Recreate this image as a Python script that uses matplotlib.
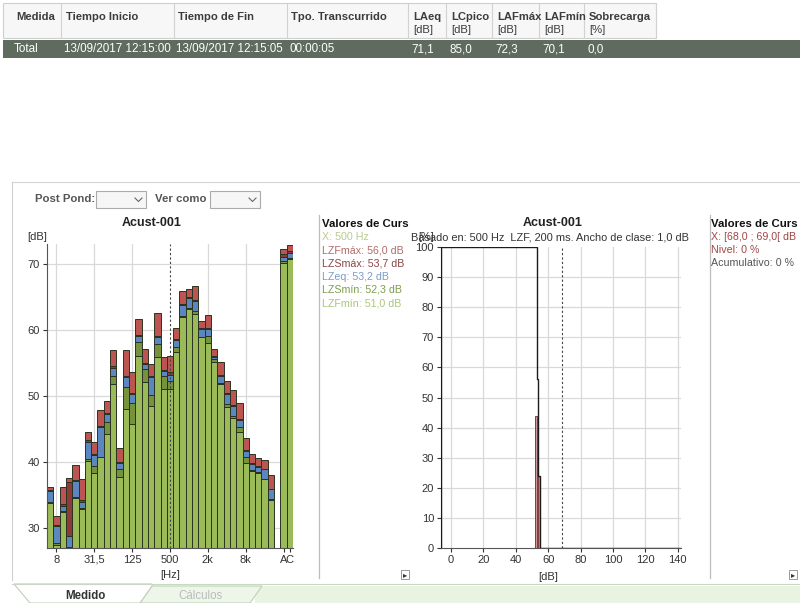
import numpy as np
import matplotlib
matplotlib.use("Agg")
import matplotlib.pyplot as plt
from matplotlib.patches import Rectangle, Polygon
from matplotlib.lines import Line2D

# ---------------- data ----------------
table_headers = ["Medida", "Tiempo Inicio", "Tiempo de Fin", "Tpo. Transcurrido",
                 "LAeq\n[dB]", "LCpico\n[dB]", "LAFmáx\n[dB]", "LAFmín\n[dB]", "Sobrecarga\n[%]"]
table_row = ["Total", "13/09/2017 12:15:00", "13/09/2017 12:15:05", "00:00:05",
             "71,1", "85,0", "72,3", "70,1", "0,0"]

bands = ['6,3', '8', '10', '12,5', '16', '20', '25', '31,5', '40', '50', '63', '80', '100',
         '125', '160', '200', '250', '315', '400', '500', '630', '800', '1k', '1,25k', '1,6k',
         '2k', '2,5k', '3,15k', '4k', '5k', '6,3k', '8k', '10k', '12,5k', '16k', '20k', '', 'A', 'C']
nan = np.nan
LZFmax = [36.2, 31.8, 36.3, 37.6, 39.6, 37.4, 44.6, 43.1, 47.9, 49.2, 57.0, 42.2, 56.9, 53.7,
          61.7, 57.1, 54.8, 62.5, 55.9, 56.0, 60.3, 65.9, 66.2, 66.6, 61.4, 62.2, 57.1, 55.1,
          52.3, 50.9, 49.0, 43.7, 41.2, 40.6, 40.3, 38.1, nan, 72.3, 72.9]
LZSmax = [35.8, 30.5, 33.6, 37.0, 37.3, 34.2, 43.3, 41.2, 45.5, 47.4, 54.5, 40.0, 53.0, 50.5,
          59.3, 55.0, 53.0, 59.1, 54.0, 53.7, 58.6, 63.9, 65.0, 64.6, 60.3, 60.3, 56.1, 53.2,
          50.4, 48.6, 46.5, 41.9, 39.8, 39.4, 39.0, 36.0, nan, 71.5, 71.9]
LZeq = [35.6, 30.3, 33.4, 28.8, 37.2, 33.9, 43.0, 41.0, 45.3, 47.3, 54.3, 39.8, 52.8, 50.3,
        59.1, 54.8, 52.8, 58.9, 53.8, 53.2, 58.4, 63.7, 64.8, 64.4, 60.2, 60.2, 55.9, 53.1,
        50.3, 48.5, 46.3, 41.7, 39.7, 39.3, 38.9, 35.9, nan, 71.1, 71.6]
LZSmin = [33.9, 27.7, 32.6, 27.1, 34.7, 33.0, 40.5, 39.4, 40.8, 46.0, 53.1, 38.9, 51.3, 49.0,
          58.1, 54.1, 50.1, 57.8, 53.1, 52.3, 57.4, 62.1, 63.3, 62.9, 59.0, 59.1, 55.6, 51.9,
          48.8, 46.9, 45.3, 40.7, 38.8, 38.5, 37.5, 34.4, nan, 70.5, 70.9]
LZFmin = [33.8, 27.5, 32.5, 27.0, 34.6, 32.9, 40.2, 38.4, 40.7, 44.3, 51.8, 37.7, 48.0, 45.8,
          56.1, 52.1, 48.5, 55.9, 51.1, 51.0, 56.6, 62.0, 63.2, 62.4, 58.9, 58.0, 55.1, 51.8,
          48.3, 46.7, 44.5, 39.9, 38.6, 38.4, 37.4, 34.3, nan, 70.1, 70.7]
spec_ticks = ['8', '31,5', '125', '500', '2k', '8k', 'A', 'C']
spec_cursor = '500'

hist_level = [52, 53, 54]          # class lower edges [dB]
hist_pct = [44, 32, 24]            # [%]
cum_edges = [-6.2, 53, 54, 55, 142]
cum_pct = [100, 56, 24, 0]
hist_cursor = 68.5

cursor_left = [("X: 500 Hz", '#B9CB8E'), ("LZFmáx: 56,0 dB", '#B36B6B'),
               ("LZSmáx: 53,7 dB", '#8A4646'), ("LZeq: 53,2 dB", '#7B9CC9'),
               ("LZSmín: 52,3 dB", '#7E9E4E'), ("LZFmín: 51,0 dB", '#A9C77A')]
cursor_right = [("X: [68,0 ; 69,0[ dB", '#A34545'), ("Nivel: 0 %", '#A34545'),
                ("Acumulativo: 0 %", '#555555')]

# ---------------- figure helpers ----------------
W, H = 800, 603
FONT = 'Liberation Sans'
plt.rcParams['font.family'] = [FONT, 'DejaVu Sans']
fig = plt.figure(figsize=(W / 100, H / 100), dpi=100)
fig.patch.set_facecolor('white')


def txt(x, y, s, **kw):
    kw.setdefault('va', 'center')
    fig.text(x / W, 1 - y / H, s, **kw)


def rect(x0, y0, x1, y1, **kw):
    fig.add_artist(Rectangle((x0 / W, 1 - y1 / H), (x1 - x0) / W, (y1 - y0) / H,
                             transform=fig.transFigure, **kw))


def line(xs, ys, **kw):
    fig.add_artist(Line2D([x / W for x in xs], [1 - y / H for y in ys],
                          transform=fig.transFigure, **kw))


def poly(pts, **kw):
    fig.add_artist(Polygon([(x / W, 1 - y / H) for x, y in pts], closed=True,
                           transform=fig.transFigure, **kw))


# ---------------- table ----------------
rect(3, 3, 656, 38, fc='#F7F7F7', ec='#CFCFCF', lw=0.8)
col_x = [16, 66, 178, 291, 413, 451, 497, 544, 589]
seps = [61, 174, 287, 408, 446, 492, 539, 584, 656]
for s in seps:
    line([s, s], [4, 38], color='#D2D2D2', lw=0.8)
for cx, h in zip(col_x, table_headers):
    parts = h.split('\n')
    txt(cx, 17, parts[0], fontsize=8.1, fontweight='bold', color='#3C3C3C')
    if len(parts) > 1:
        txt(cx, 30, parts[1], fontsize=8.1, color='#3C3C3C')
rect(3, 40, 800, 58, fc='#5E6B5E', ec='none')
for cx, v in zip(col_x, table_row):
    txt(cx - 2, 49, v, fontsize=8.4, color='white')

line([12, 800], [182, 182], color='#D5D5D5', lw=0.8)
line([12, 12], [182, 580], color='#D0D0D0', lw=0.8)

# controls
txt(35, 199, "Post Pond:", fontsize=8.2, fontweight='bold', color='#555555')
rect(96, 191, 146, 208, fc='#F6F6F6', ec='#ABABAB', lw=0.8)
line([135, 138.5, 142], [198, 201.5, 198], color='#666666', lw=0.8)
txt(155, 199, "Ver como", fontsize=8.2, fontweight='bold', color='#555555')
rect(210, 191, 260, 208, fc='#F6F6F6', ec='#ABABAB', lw=0.8)
line([249, 252.5, 256], [198, 201.5, 198], color='#666666', lw=0.8)

# ---------------- spectrum chart ----------------
ax1 = fig.add_axes([47 / W, 1 - 548 / H, (293 - 47) / W, (548 - 244) / H])
n = len(bands)
xpos = np.arange(n) + 0.5
Fmax, Smax, Leq, Smin, Fmin = (np.array(a, dtype=float) for a in (LZFmax, LZSmax, LZeq, LZSmin, LZFmin))
ok = ~np.isnan(Fmax)
edge = '#2A3320'
layers = [
    (np.zeros(n), Fmin, '#9BBB59'),
    (Fmin, Smin, '#76923C'),
    (Smin, Leq, '#5B86C0'),
    (Leq, Smax, '#8C3A3A'),
    (Smax, Fmax, '#BC5551'),
]
for lo, hi, col in layers:
    ax1.bar(xpos[ok], (hi - lo)[ok], bottom=lo[ok], width=1.0, color=col,
            edgecolor=edge, linewidth=0.7, zorder=2)
ax1.set_xlim(0, n)
ax1.set_ylim(27, 73)
tick_pos = [xpos[bands.index(t)] for t in spec_ticks]
ax1.set_xticks(tick_pos)
ax1.set_xticklabels(spec_ticks)
ax1.set_yticks([30, 40, 50, 60, 70])
for t in spec_ticks[:6]:
    if t != spec_cursor:
        ax1.axvline(xpos[bands.index(t)], color='#D9D9D9', lw=0.9, zorder=0)
for yv in [30, 40, 50, 60, 70]:
    ax1.axhline(yv, color='#D9D9D9', lw=0.9, zorder=0)
ax1.axvline(xpos[bands.index(spec_cursor)], color='#444444', lw=0.8,
            ls=(0, (2, 2)), zorder=4)
for sp in ['top', 'right']:
    ax1.spines[sp].set_visible(False)
for sp in ['left', 'bottom']:
    ax1.spines[sp].set_color('#555555')
ax1.tick_params(labelsize=8, colors='#333333', length=3, width=0.8, pad=2)
ax1.set_facecolor('white')

txt(152, 223, "Acust-001", fontsize=9, fontweight='bold', color='#222222', ha='center')
txt(27, 237, "[dB]", fontsize=8, color='#333333')
txt(170, 575, "[Hz]", fontsize=8, color='#333333', ha='center')

# cursor panel left
line([318.5, 318.5], [215, 578], color='#BDBDBD', lw=0.9)
txt(322, 224, "Valores de Curs", fontsize=8.2, fontweight='bold', color='#111111')
for k, (s, c) in enumerate(cursor_left):
    txt(322, 237 + 13.2 * k, s, fontsize=7.7, color=c)

# ---------------- histogram chart ----------------
ax2 = fig.add_axes([441 / W, 1 - 548 / H, (681 - 441) / W, (548 - 247) / H])
ax2.set_xlim(cum_edges[0], cum_edges[-1])
ax2.set_ylim(0, 100)
xt = [0, 20, 40, 60, 80, 100, 120, 140]
yt = [0, 10, 20, 30, 40, 50, 60, 70, 80, 90, 100]
ax2.set_xticks(xt)
ax2.set_yticks(yt)
for v in xt:
    ax2.axvline(v, color='#D9D9D9', lw=0.9, zorder=0)
for v in yt[1:-1]:
    ax2.axhline(v, color='#D9D9D9', lw=0.9, zorder=0)
ax2.bar(hist_level, hist_pct, width=1.0, align='edge', color='#C99A9A',
        edgecolor='#8C3A3A', linewidth=0.7, zorder=2)
ax2.stairs(cum_pct, cum_edges, color='#1A1A1A', lw=1.0, zorder=3)
ax2.axvline(hist_cursor, color='#444444', lw=0.8, ls=(0, (2, 2)), zorder=4)
for sp in ['top', 'right']:
    ax2.spines[sp].set_visible(False)
for sp in ['left', 'bottom']:
    ax2.spines[sp].set_color('#555555')
ax2.tick_params(labelsize=8, colors='#333333', length=3, width=0.8, pad=2)

txt(553, 223, "Acust-001", fontsize=9, fontweight='bold', color='#222222', ha='center')
txt(550, 237, "Basado en: 500 Hz  LZF, 200 ms. Ancho de clase: 1,0 dB",
    fontsize=7.9, color='#333333', ha='center')
txt(418, 237, "[%]", fontsize=7.9, color='#333333')
txt(548, 577, "[dB]", fontsize=8, color='#333333', ha='center')

# cursor panel right
line([709.5, 709.5], [215, 578], color='#BDBDBD', lw=0.9)
txt(711, 224, "Valores de Curs", fontsize=8.2, fontweight='bold', color='#111111')
for k, (s, c) in enumerate(cursor_right):
    txt(711, 237 + 13.2 * k, s, fontsize=7.7, color=c)

# scroll buttons
for bx in [405, 793]:
    rect(bx - 4, 570, bx + 4, 579, fc='white', ec='#9A9A9A', lw=0.7)
    txt(bx, 574.5, "▸", fontsize=6, color='#333333', ha='center',
        family='DejaVu Sans')

# ---------------- bottom tabs ----------------
rect(255, 586, 800, 603, fc='#E8F3E2', ec='none')
line([12, 800], [584, 584], color='#C9D8C2', lw=0.8)
poly([(140, 603), (152, 586), (262, 586), (250, 603)], fc='#EEF6EA', ec='#BFCFB8', lw=0.8)
poly([(14, 584), (30, 603), (140, 603), (152, 586), (152, 584)], fc='white', ec='#BFCFB8', lw=0.8)
txt(85, 596, "Medido", fontsize=8.3, fontweight='bold', color='#333333', ha='center')
txt(200, 596, "Cálculos", fontsize=8.3, color='#BBBBBB', ha='center')

fig.savefig("out.png", dpi=100)
